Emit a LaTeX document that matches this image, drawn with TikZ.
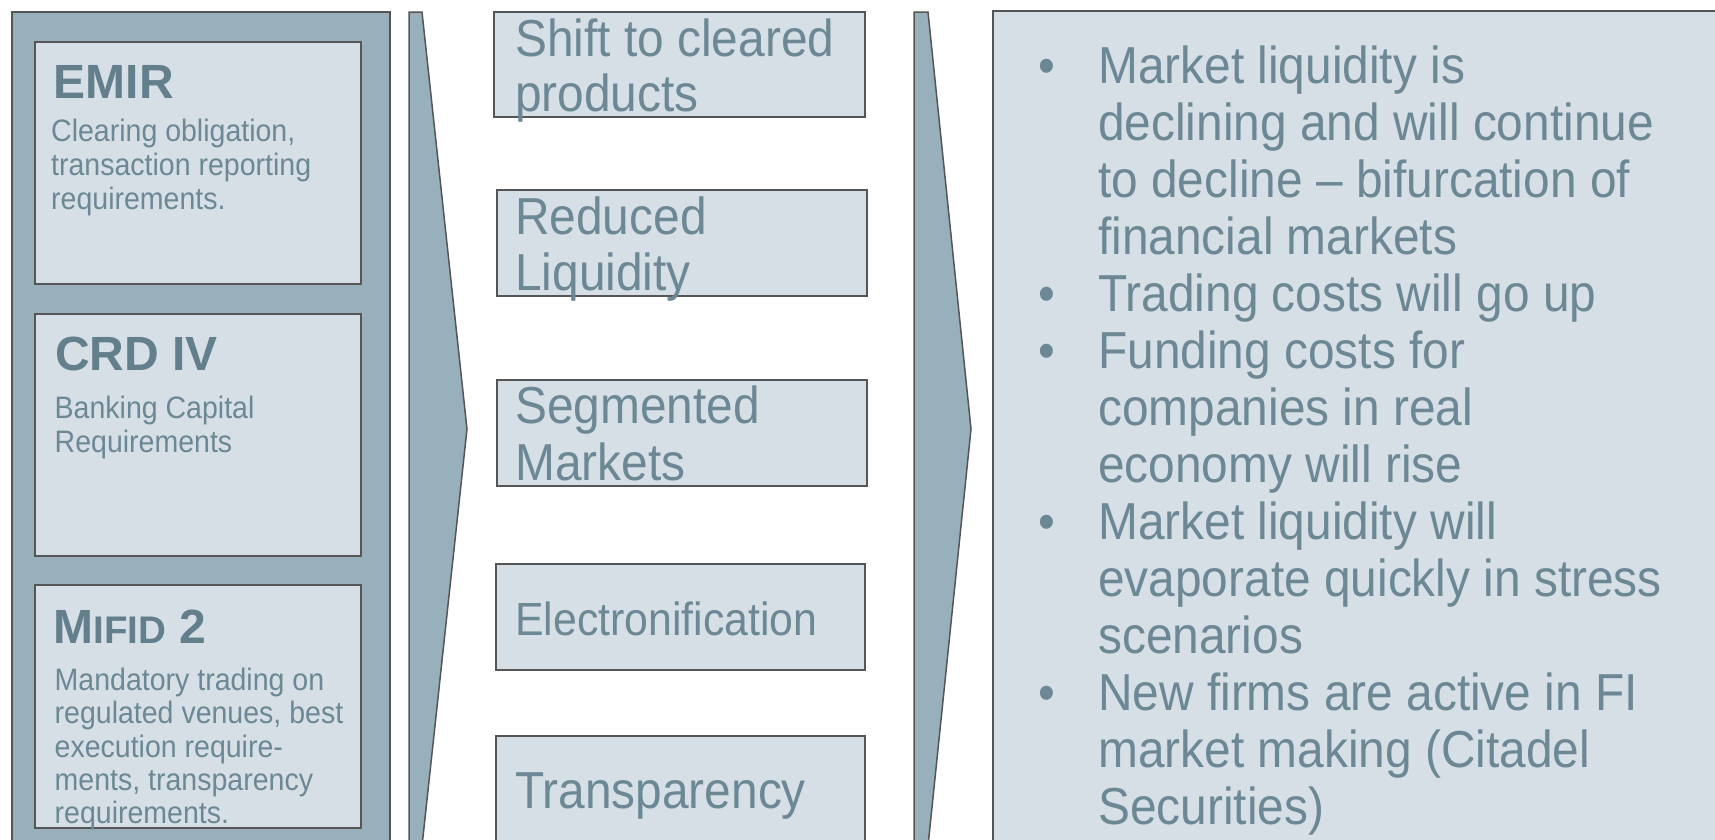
\documentclass[tikz,border=0pt]{standalone}
\usepackage{fontspec}
\setmainfont{Liberation Sans}
\newfontfamily\bodyfont[FakeStretch=0.92]{Liberation Sans}
\definecolor{panelc}{HTML}{98AFBC}
\definecolor{boxc}{HTML}{D6DFE6}
\definecolor{txtc}{HTML}{6C8894}
\definecolor{ttlc}{HTML}{637F8C}
\definecolor{edgec}{HTML}{555555}
\begin{document}
\begin{tikzpicture}[x=1pt,y=-1pt,
  panel/.style={fill=panelc,draw=edgec,line width=1.5pt},
  inbox/.style={fill=boxc,draw=edgec,line width=1.5pt},
  ttlt/.style={anchor=base west,inner sep=0pt,text=ttlc,font=\fontsize{48}{52}\selectfont\bfseries},
  desct/.style={anchor=base west,inner sep=0pt,text=txtc,font=\bodyfont\fontsize{31}{35}\selectfont},
  bigt/.style={anchor=base west,inner sep=0pt,text=txtc,font=\bodyfont\fontsize{52}{57}\selectfont}]
\useasboundingbox (0,0) rectangle (1715,839);
\clip (0,0) rectangle (1715,839);
% left panel
\draw[panel] (12,12) rectangle (390,870);
\draw[inbox] (35,42) rectangle (361,284);
\draw[inbox] (35,314) rectangle (361,556);
\draw[inbox] (35,585) rectangle (361,828);
% chevrons
\draw[panel] (409,12) -- (422,12) -- (467,429) -- (422,846) -- (409,846) -- cycle;
\draw[panel] (914,12) -- (928,12) -- (971,429) -- (928,846) -- (914,846) -- cycle;
% middle boxes
\draw[inbox] (494,12) rectangle (865,117);
\draw[inbox] (497,190) rectangle (867,296);
\draw[inbox] (497,380) rectangle (867,486);
\draw[inbox] (496,564) rectangle (865,670);
\draw[inbox] (496,736) rectangle (865,870);
% right panel
\draw[inbox] (993,11) rectangle (1740,870);
% left texts
\node[ttlt] (emir) at (53.5,98) {EMIR};
\node[desct] (emir1) at (51,141) {Clearing obligation,};
\node[desct] (emir2) at (51,175) {transaction reporting};
\node[desct] (emir3) at (51,209) {requirements.};
\node[ttlt] (crd) at (55,370) {CRD IV};
\node[desct] (crd1) at (54.5,418) {Banking Capital};
\node[desct] (crd2) at (54.5,452) {Requirements};
\node[ttlt] (mifid) at (53.5,643) {M{\fontsize{38.5}{42}\selectfont IFID} 2};
\node[desct] (mif1) at (54.5,690) {Mandatory trading on};
\node[desct] (mif2) at (54.5,723) {regulated venues, best};
\node[desct] (mif3) at (54.5,757) {execution require-};
\node[desct] (mif4) at (54.5,790) {ments, transparency};
\node[desct] (mif5) at (54.5,823) {requirements.};
% middle texts
\node[bigt] (m1a) at (515,56) {Shift to cleared};
\node[bigt] (m1b) at (515,111) {products};
\node[bigt] (m2a) at (515,234) {Reduced};
\node[bigt] (m2b) at (515,290) {Liquidity};
\node[bigt] (m3a) at (515,423) {Segmented};
\node[bigt] (m3b) at (515,480) {Markets};
\node[bigt,font=\bodyfont\fontsize{46.5}{50}\selectfont] (m4) at (515,635) {Electronification};
\node[bigt] (m5) at (515,808) {Transparency};
% right texts
\foreach \t [count=\i] in {{Market liquidity is},{declining and will continue},{to decline – bifurcation of},{financial markets},{Trading costs will go up},{Funding costs for},{companies in real},{economy will rise},{Market liquidity will},{evaporate quickly in stress},{scenarios},{New firms are active in FI},{market making (Citadel},{Securities)}}
  \node[bigt] (r\i) at (1098,{83+57*(\i-1)}) {\t};
\foreach \i in {1,5,6,9,12}
  \node[bigt] (b\i) at (1038,{83+57*(\i-1)}) {•};
\end{tikzpicture}
\end{document}
